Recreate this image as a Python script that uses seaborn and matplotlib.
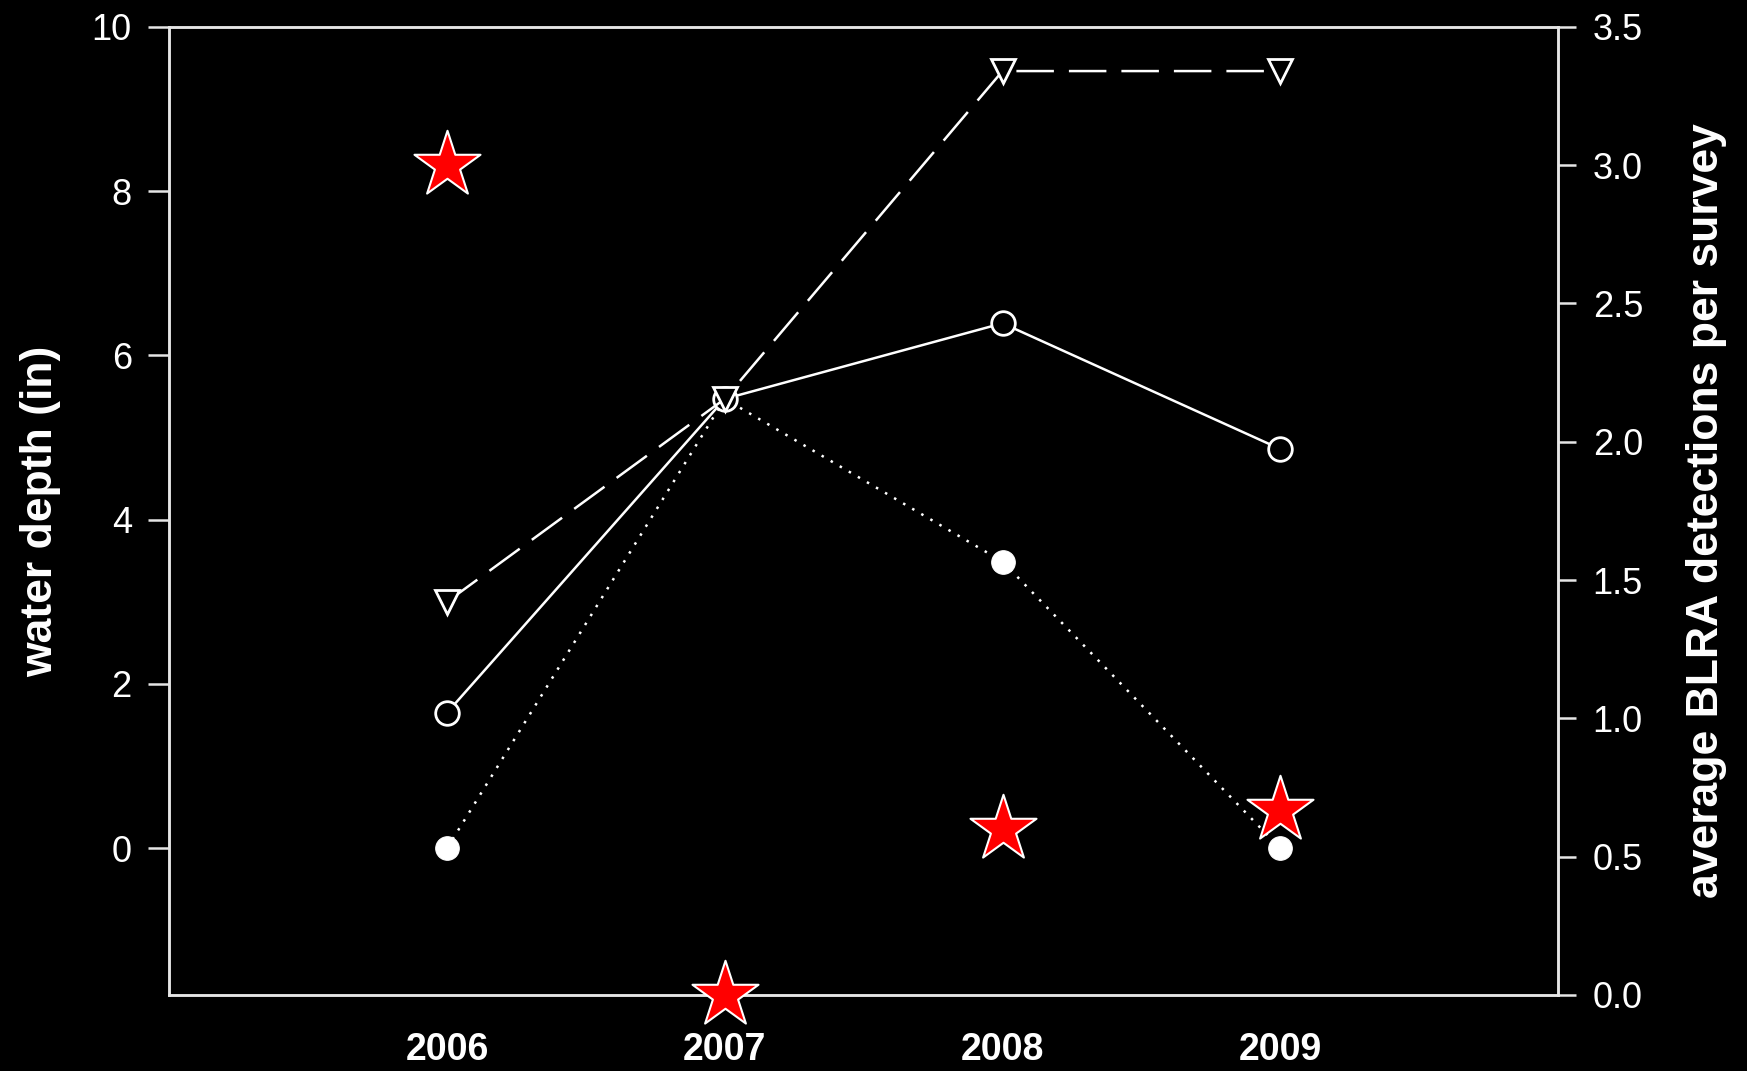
import matplotlib
matplotlib.use("Agg")
import matplotlib.pyplot as plt
import seaborn as sns
import pandas as pd

years = [2006, 2007, 2008, 2009]
depth_triangle = [3.0, 5.47, 9.46, 9.46]
depth_open_circle = [1.65, 5.47, 6.39, 4.86]
depth_filled_circle = [0.0, 5.47, 3.49, 0.0]
blra_detections = [3.0, 0.0, 0.6, 0.67]
x_ticks = ["2006", "2007", "2008", "2009"]

sns.set_style("dark")
plt.rcParams["font.family"] = ["Liberation Sans", "DejaVu Sans"]

fg = "#e6e6e6"
fig = plt.figure(figsize=(17.47, 10.71), dpi=100, facecolor="black")
ax = fig.add_axes([169.3 / 1747, 1 - 995 / 1071, (1558 - 169.3) / 1747, (995 - 26.7) / 1071])
ax.set_facecolor("black")

df = pd.DataFrame({"year": years, "tri": depth_triangle, "oc": depth_open_circle,
                   "fc": depth_filled_circle, "blra": blra_detections})

sns.lineplot(data=df, x="year", y="fc", ax=ax, color="white", lw=1.8,
             linestyle=(0, (1, 3.2)), marker="o", markersize=17,
             markerfacecolor="white", markeredgecolor="white", zorder=3)
sns.lineplot(data=df, x="year", y="oc", ax=ax, color="white", lw=1.8,
             linestyle="-", marker="o", markersize=17, markeredgewidth=2,
             markerfacecolor="black", markeredgecolor="white", zorder=4)
sns.lineplot(data=df, x="year", y="tri", ax=ax, color="white", lw=1.8,
             linestyle=(0, (15, 6)), marker="v", markersize=17, markeredgewidth=2,
             markerfacecolor="black", markeredgecolor="white", zorder=5)

ax.set_xlim(2005, 2010)
ax.set_ylim(-1.786, 10)
ax.set_xticks(years)
ax.set_xticklabels(x_ticks)
ax.set_yticks([0, 2, 4, 6, 8, 10])
ax.set_xlabel("")
ax.set_ylabel("water depth (in)", color="white", fontsize=32, fontweight="bold", labelpad=22)
for lab in ax.get_xticklabels():
    lab.set_fontweight("bold")
    lab.set_fontsize(27)
ax.tick_params(axis="x", colors=fg, labelcolor="white", direction="out", length=15, width=1.8, pad=12)
ax.tick_params(axis="y", colors=fg, labelcolor="white", direction="out", length=15, width=1.8,
               labelsize=26, pad=12)
ax.grid(False)

ax2 = ax.twinx()
sns.scatterplot(data=df, x="year", y="blra", ax=ax2, marker="*", s=2500,
                color="#ff0000", edgecolor="white", linewidth=1.5, zorder=6, clip_on=False)
ax2.set_ylim(0, 3.5)
ax2.set_yticks([0, 0.5, 1, 1.5, 2, 2.5, 3, 3.5])
ax2.set_yticklabels(["0.0", "0.5", "1.0", "1.5", "2.0", "2.5", "3.0", "3.5"])
ax2.set_xlim(2005, 2010)
ax2.set_ylabel("average BLRA detections per survey", color="white", fontsize=32,
               fontweight="bold", labelpad=31)
ax2.tick_params(axis="y", colors=fg, labelcolor="white", direction="out", length=13, width=1.8,
                labelsize=26, pad=12)
ax2.grid(False)
ax2.set_xlabel("")

for a in (ax, ax2):
    for s in a.spines.values():
        s.set_visible(True)
        s.set_color(fg)
        s.set_linewidth(1.8)

fig.savefig("out.png", dpi=100, facecolor="black")
